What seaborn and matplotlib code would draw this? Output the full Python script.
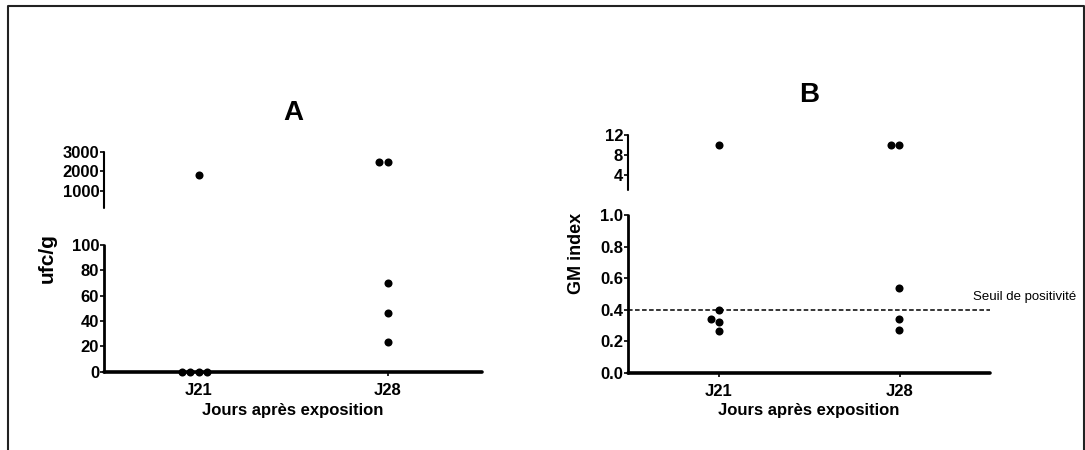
import matplotlib
matplotlib.use("Agg")
import matplotlib.pyplot as plt
from matplotlib.lines import Line2D
import numpy as np
import pandas as pd
import seaborn as sns

# ---- data -------------------------------------------------------------
jours = ["J21", "J28"]
ufc_j21 = [0, 0, 0, 0, 1800]
ufc_j28 = [23, 46, 70, 2500, 2500]
gm_j21 = [0.264, 0.325, 0.344, 0.40, 10]
gm_j28 = [0.272, 0.344, 0.54, 10, 10]
seuil_gm = 0.4

ufc_ticks_low = [0, 20, 40, 60, 80, 100]
ufc_ticks_high = [1000, 2000, 3000]
gm_ticks_low = [0.0, 0.2, 0.4, 0.6, 0.8, 1.0]
gm_ticks_high = [4, 8, 12]

# ---- style ------------------------------------------------------------
sns.set_theme(style="white")
plt.rcParams["font.family"] = ["Liberation Sans", "DejaVu Sans"]
plt.rcParams["font.weight"] = "bold"
for key in ("text.color", "axes.labelcolor", "xtick.color", "ytick.color"):
    plt.rcParams[key] = "black"

W, H = 1085, 450
fig = plt.figure(figsize=(W / 100, H / 100), dpi=100)


def box(x0, y_top, x1, y_bot):
    return [x0 / W, 1 - y_bot / H, (x1 - x0) / W, (y_bot - y_top) / H]


def fx(x):
    return x / W


def fy(y):
    return 1 - y / H


def make_frame(values_j21, values_j28, name):
    return pd.DataFrame({
        "jour": ["J21"] * len(values_j21) + ["J28"] * len(values_j28),
        name: list(values_j21) + list(values_j28),
    })


def swarm(ax, df, col):
    sns.swarmplot(data=df, x="jour", y=col, order=jours, color="black",
                  size=5.8, ax=ax, zorder=5)
    for c in ax.collections:
        c.set_clip_on(False)


def style_low(ax, yticks, ylim, fmt):
    ax.set_xlim(-0.5, 1.5)
    ax.set_ylim(*ylim)
    ax.set_yticks(yticks)
    ax.set_yticklabels([fmt(v) for v in yticks])
    ax.set_xticks([0, 1])
    ax.set_xticklabels(jours)
    for s in ("top", "right"):
        ax.spines[s].set_visible(False)
    ax.spines["left"].set_linewidth(2.0)
    ax.spines["bottom"].set_linewidth(2.6)
    for s in ("left", "bottom"):
        ax.spines[s].set_color("black")
        ax.spines[s].set_capstyle("round")
    ax.tick_params(axis="y", direction="out", length=3, width=1.2, pad=0.5,
                   labelsize=12, left=True, colors="black")
    ax.tick_params(axis="x", direction="out", length=3, width=1.2, pad=5,
                   labelsize=12, bottom=True, colors="black")
    ax.set_xlabel("")
    ax.set_ylabel("")
    ax.patch.set_alpha(0)


def style_high(ax, yticks, ylim, fmt):
    ax.set_xlim(-0.5, 1.5)
    ax.set_ylim(*ylim)
    ax.set_yticks(yticks)
    ax.set_yticklabels([fmt(v) for v in yticks])
    ax.set_xticks([])
    for s in ("top", "right", "bottom"):
        ax.spines[s].set_visible(False)
    ax.spines["left"].set_linewidth(1.5)
    ax.spines["left"].set_color("black")
    ax.spines["left"].set_capstyle("round")
    ax.tick_params(axis="y", direction="out", length=3, width=1.2, pad=0.5,
                   labelsize=12, left=True, colors="black")
    ax.set_xlabel("")
    ax.set_ylabel("")
    ax.patch.set_alpha(0)


# ---- panel A : ufc/g --------------------------------------------------
ufc = make_frame(ufc_j21, ufc_j28, "ufc")
a_low = fig.add_axes(box(104, 245, 482, 371.5))
a_high = fig.add_axes(box(104, 152, 482, 208))
swarm(a_low, ufc[ufc["ufc"] <= 100], "ufc")
swarm(a_high, ufc[ufc["ufc"] > 100], "ufc")
style_low(a_low, ufc_ticks_low, (0, 100), lambda v: f"{v:g}")
style_high(a_high, ufc_ticks_high, (100, 3000), lambda v: f"{v:g}")

fig.text(fx(293), fy(113), "A", ha="center", va="center",
         fontsize=20, fontweight="bold")
fig.text(fx(47), fy(258), "ufc/g", ha="center", va="center",
         rotation=90, fontsize=15, fontweight="bold")
fig.text(fx(293), fy(411), "Jours après exposition", ha="center",
         va="center", fontsize=12, fontweight="bold")

# ---- panel B : GM index -----------------------------------------------
gm = make_frame(gm_j21, gm_j28, "gm")
b_low = fig.add_axes(box(628, 215, 990, 373))
b_high = fig.add_axes(box(628, 135, 990, 190))
b_low.axhline(seuil_gm, color="black", lw=1.1, ls=(0, (3, 1.6)), zorder=2)
swarm(b_low, gm[gm["gm"] <= 1], "gm")
swarm(b_high, gm[gm["gm"] > 1], "gm")
style_low(b_low, gm_ticks_low, (0, 1.0), lambda v: f"{v:.1f}")
style_high(b_high, gm_ticks_high, (1, 12), lambda v: f"{v:g}")

fig.text(fx(809), fy(95), "B", ha="center", va="center",
         fontsize=20, fontweight="bold")
fig.text(fx(576), fy(253), "GM index", ha="center", va="center",
         rotation=90, fontsize=13, fontweight="bold")
fig.text(fx(809), fy(411), "Jours après exposition", ha="center",
         va="center", fontsize=12, fontweight="bold")
fig.text(fx(973), fy(297), "Seuil de positivité", ha="left", va="center",
         fontsize=9.5, fontweight="normal")

# ---- outer frame (open at the bottom) ---------------------------------
fig.add_artist(Line2D([fx(8), fx(8), fx(1083.5), fx(1083.5)],
                      [0, fy(6), fy(6), 0], transform=fig.transFigure,
                      color="#222222", lw=1.5))

fig.savefig("out.png", dpi=100)
